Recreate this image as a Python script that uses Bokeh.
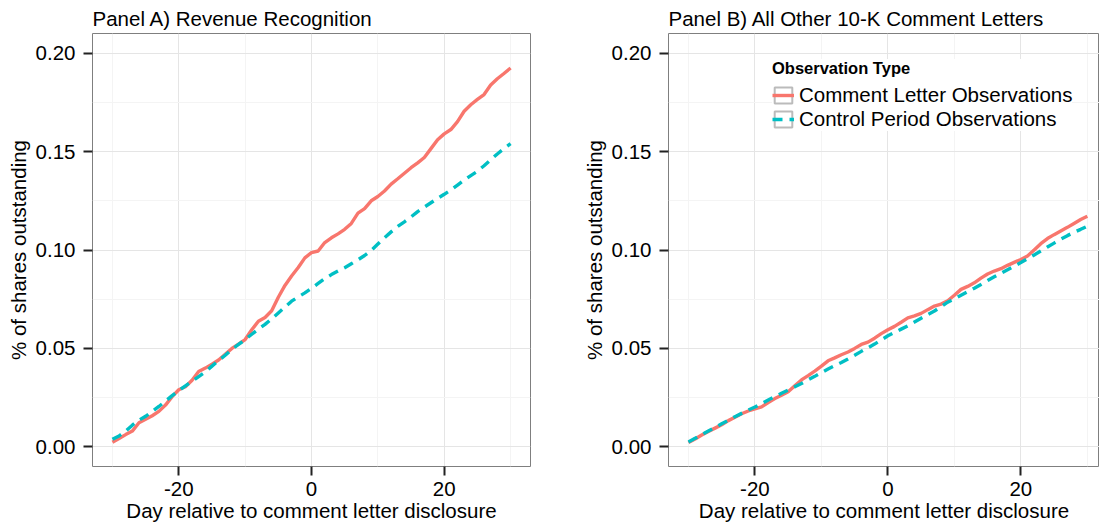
import math
from bokeh.plotting import figure
from bokeh.models import (Range1d, FixedTicker, Legend, LegendItem, NumeralTickFormatter,
                          CustomJSTickFormatter)
from bokeh.layouts import row
from bokeh.embed import file_html
from bokeh.resources import INLINE

# ---------------- data ----------------
days = list(range(-30, 31))

revrec_comment = [
    0.0023, 0.0042, 0.0062, 0.0080, 0.0122, 0.0140, 0.0158, 0.0180, 0.0212, 0.0255,
    0.0290, 0.0305, 0.0338, 0.0383, 0.0400, 0.0420, 0.0441, 0.0470, 0.0500, 0.0522,
    0.0545, 0.0595, 0.0638, 0.0657, 0.0691, 0.0760, 0.0820, 0.0868, 0.0911, 0.0960,
    0.0987, 0.0995, 0.1038, 0.1062, 0.1082, 0.1105, 0.1135, 0.1187, 0.1210, 0.1250,
    0.1272, 0.1300, 0.1335, 0.1362, 0.1390, 0.1418, 0.1443, 0.1470, 0.1515, 0.1560,
    0.1590, 0.1612, 0.1652, 0.1705, 0.1738, 0.1765, 0.1790, 0.1838, 0.1870, 0.1897,
    0.1925,
]
revrec_control = [
    0.0038, 0.0055, 0.0080, 0.0110, 0.0135, 0.0155, 0.0180, 0.0205, 0.0232, 0.0260,
    0.0285, 0.0310, 0.0333, 0.0357, 0.0380, 0.0410, 0.0438, 0.0465, 0.0495, 0.0520,
    0.0545, 0.0572, 0.0598, 0.0622, 0.0650, 0.0680, 0.0710, 0.0740, 0.0762, 0.0782,
    0.0805, 0.0830, 0.0855, 0.0875, 0.0893, 0.0910, 0.0930, 0.0950, 0.0972, 0.0998,
    0.1030, 0.1062, 0.1092, 0.1120, 0.1143, 0.1168, 0.1195, 0.1218, 0.1240, 0.1262,
    0.1283, 0.1305, 0.1330, 0.1355, 0.1378, 0.1400, 0.1428, 0.1458, 0.1488, 0.1515,
    0.1540,
]
other_comment = [
    0.0022, 0.0040, 0.0060, 0.0078, 0.0095, 0.0112, 0.0133, 0.0150, 0.0168, 0.0182,
    0.0193, 0.0203, 0.0225, 0.0245, 0.0262, 0.0280, 0.0310, 0.0340, 0.0362, 0.0385,
    0.0410, 0.0437, 0.0452, 0.0468, 0.0482, 0.0500, 0.0520, 0.0532, 0.0552, 0.0575,
    0.0595, 0.0612, 0.0633, 0.0655, 0.0665, 0.0678, 0.0697, 0.0715, 0.0725, 0.0742,
    0.0770, 0.0800, 0.0815, 0.0833, 0.0857, 0.0878, 0.0893, 0.0905, 0.0922, 0.0937,
    0.0952, 0.0970, 0.1000, 0.1032, 0.1058, 0.1078, 0.1097, 0.1115, 0.1135, 0.1155,
    0.1172,
]
other_control = [
    0.0025, 0.0043, 0.0062, 0.0080, 0.0098, 0.0117, 0.0135, 0.0153, 0.0170, 0.0187,
    0.0202, 0.0220, 0.0238, 0.0255, 0.0272, 0.0288, 0.0305, 0.0322, 0.0340, 0.0358,
    0.0377, 0.0395, 0.0412, 0.0428, 0.0446, 0.0465, 0.0485, 0.0503, 0.0522, 0.0543,
    0.0564, 0.0581, 0.0598, 0.0615, 0.0634, 0.0653, 0.0672, 0.0690, 0.0712, 0.0735,
    0.0752, 0.0770, 0.0788, 0.0806, 0.0825, 0.0845, 0.0864, 0.0882, 0.0900, 0.0918,
    0.0936, 0.0955, 0.0975, 0.0995, 0.1015, 0.1035, 0.1055, 0.1073, 0.1090, 0.1105,
    0.1121,
]

panel_titles = ["Panel A) Revenue Recognition", "Panel B) All Other 10-K Comment Letters"]
series_labels = ["Comment Letter Observations", "Control Period Observations"]
legend_title = "Observation Type"
x_title = "Day relative to comment letter disclosure"
y_title = "% of shares outstanding"

x_ticks = [-20, 0, 20]
x_minor = [-30, -10, 10, 30]
y_ticks = [0.0, 0.05, 0.10, 0.15, 0.20]
y_minor = [0.025, 0.075, 0.125, 0.175]

# ---------------- style ----------------
FONT = "Liberation Sans"
FS = "20.5px"
RED = "#F8766D"
CYAN = "#00BFC4"


def make_panel(title, comment, control, x_end, width, left, right, with_legend=False):
    p = figure(width=width, height=527, title=title,
               x_range=Range1d(-33, x_end), y_range=Range1d(-0.01, 0.21),
               output_backend="svg", toolbar_location=None,
               min_border_left=left, min_border_right=right,
               min_border_top=32, min_border_bottom=61)
    p.background_fill_color = "white"
    p.border_fill_color = "white"
    p.outline_line_color = "#7f7f7f"
    p.outline_line_width = 1

    p.title.text_font = FONT
    p.title.text_font_size = FS
    p.title.text_font_style = "normal"
    p.title.text_color = "black"
    p.title.align = "left"
    p.title.offset = 0
    p.title.standoff = 8

    p.xaxis.ticker = FixedTicker(ticks=x_ticks, minor_ticks=x_minor)
    p.yaxis.ticker = FixedTicker(ticks=y_ticks, minor_ticks=y_minor)
    p.xaxis.formatter = CustomJSTickFormatter(code="return tick.toFixed(0);")
    p.yaxis.formatter = NumeralTickFormatter(format="0.00")

    for ax in (p.xaxis[0], p.yaxis[0]):
        ax.axis_line_color = None
        ax.major_tick_line_color = "#222222"
        ax.major_tick_line_width = 2
        ax.major_tick_out = 9
        ax.major_tick_in = 0
        ax.minor_tick_line_color = None
        ax.major_label_text_font = FONT
        ax.major_label_text_font_size = FS
        ax.major_label_text_color = "black"
        ax.axis_label_text_font = FONT
        ax.axis_label_text_font_size = FS
        ax.axis_label_text_font_style = "normal"
        ax.axis_label_text_color = "black"
    p.xaxis.axis_label = x_title
    p.yaxis.axis_label = y_title
    p.xaxis.major_label_standoff = 6
    p.xaxis.axis_label_standoff = 0
    p.yaxis.major_label_standoff = 8
    p.yaxis.axis_label_standoff = 3

    for g in (p.xgrid[0], p.ygrid[0]):
        g.grid_line_color = "#e5e5e5"
        g.grid_line_width = 1
        g.minor_grid_line_color = "#f4f4f4"
        g.minor_grid_line_width = 1

    r1 = p.line(days, comment, line_color=RED, line_width=3.4)
    r2 = p.line(days, control, line_color=CYAN, line_width=3.4,
                line_dash="10 7", line_cap="butt")

    if with_legend:
        key_r = p.rect(x=[math.nan], y=[math.nan], width=1, height=1,
                       fill_color="white", line_color="#bbbbbb", line_width=2)
        legend = Legend(
            items=[LegendItem(label=series_labels[0], renderers=[key_r, r1]),
                   LegendItem(label=series_labels[1], renderers=[key_r, r2])],
            location=(104, 335), title=legend_title,
            title_text_font=FONT, title_text_font_size="16.5px",
            title_text_font_style="bold", title_text_color="black", title_standoff=5,
            label_text_font=FONT, label_text_font_size=FS, label_text_color="black",
            label_standoff=5, label_height=20, glyph_width=22, glyph_height=20,
            spacing=0, padding=6, margin=0,
            border_line_color=None, background_fill_color="white", background_fill_alpha=1.0)
        p.add_layout(legend)
    return p


pA = make_panel(panel_titles[0], revrec_comment, revrec_control,
                33, 578, 92, 48)
pB = make_panel(panel_titles[1], other_comment, other_control,
                31.83, 521, 90, 0, with_legend=True)

layout = row(pA, pB)
open("out.html", "w").write(file_html(layout, INLINE))
